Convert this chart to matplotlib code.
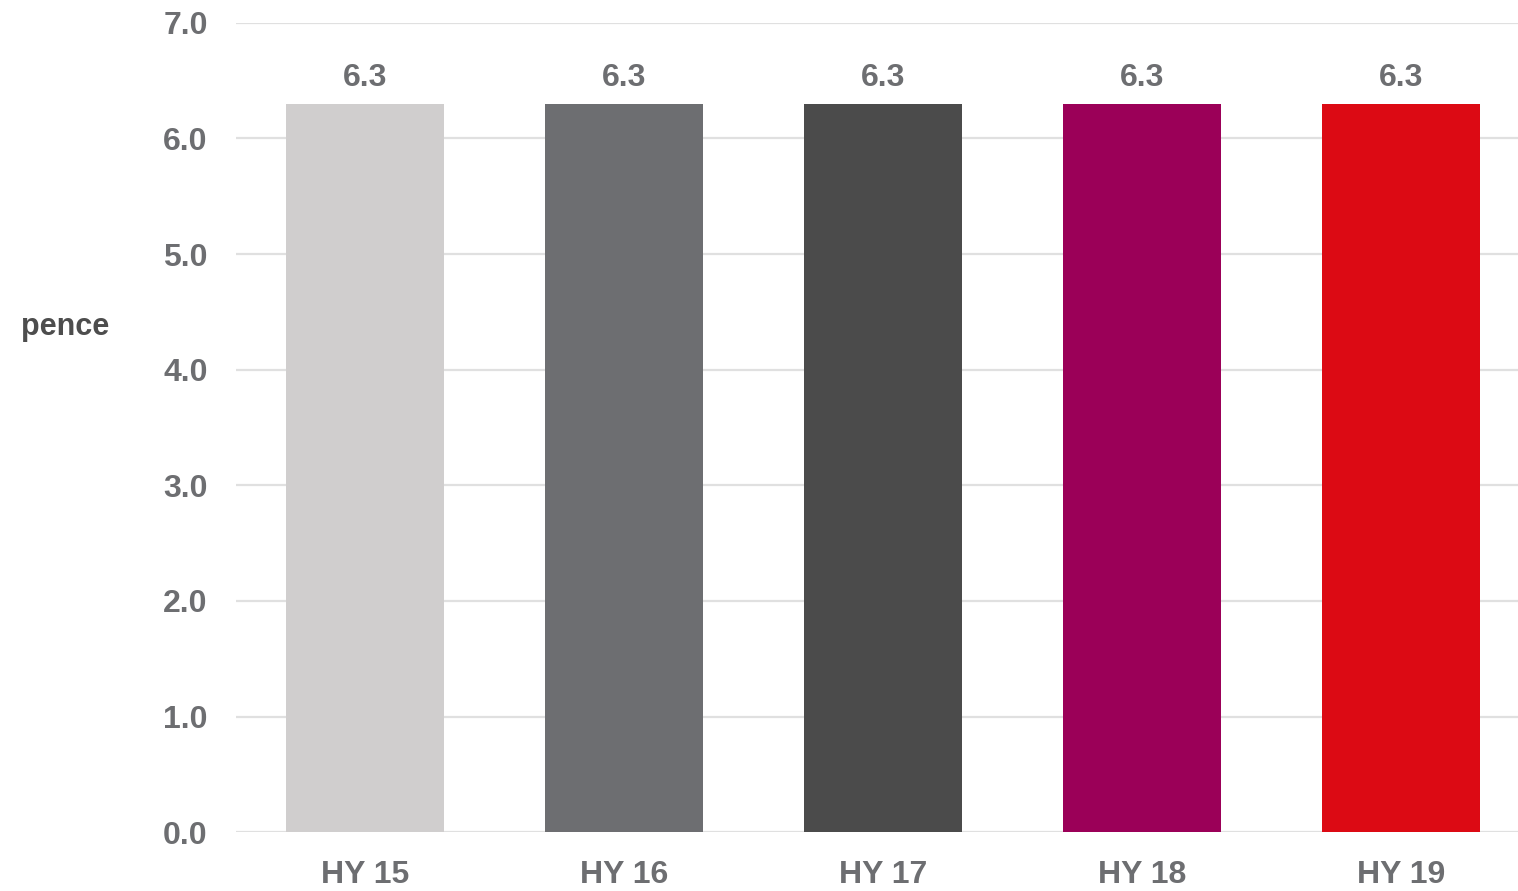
import matplotlib
matplotlib.use("Agg")
import matplotlib.pyplot as plt

categories = ["HY 15", "HY 16", "HY 17", "HY 18", "HY 19"]
values = [6.3, 6.3, 6.3, 6.3, 6.3]
bar_colors = ["#d0cece", "#6d6e71", "#4b4b4b", "#9b0058", "#dc0a14"]
y_ticks = [0, 1, 2, 3, 4, 5, 6, 7]

text_gray = "#6d6e71"
plt.rcParams["font.family"] = ["Liberation Sans", "DejaVu Sans"]
plt.rcParams["font.weight"] = "bold"

fig = plt.figure(figsize=(15.18, 8.91), dpi=100)
W, H = 1518, 891
left_px, right_px = 235.5, 1518
top_px, bottom_px = 22.7, 832.3
ax = fig.add_axes([left_px / W, (H - bottom_px) / H,
                   (right_px - left_px) / W, (bottom_px - top_px) / H])

x = list(range(len(categories)))
bars = ax.bar(x, values, width=0.61, color=bar_colors, zorder=3)

ax.set_xlim(-0.5, -0.5 + (right_px - left_px) / 259.0)
ax.set_ylim(0, 7)
ax.set_yticks(y_ticks)
ax.set_yticklabels([f"{v:.1f}" for v in y_ticks])
ax.set_xticks(x)
ax.set_xticklabels(categories)

ax.yaxis.grid(True, color="#e0e0e0", linewidth=1.6, zorder=0)
ax.xaxis.grid(False)
for s in ax.spines.values():
    s.set_visible(False)

ax.tick_params(axis="y", length=0, pad=20, labelsize=23, labelcolor=text_gray)
ax.tick_params(axis="x", length=0, pad=20, labelsize=23, labelcolor=text_gray)
for lbl in ax.get_xticklabels() + ax.get_yticklabels():
    lbl.set_fontweight("bold")

for rect, v in zip(bars, values):
    ax.annotate(f"{v:.1f}", (rect.get_x() + rect.get_width() / 2, v),
                xytext=(0, 8), textcoords="offset points",
                ha="center", va="bottom", fontsize=23, fontweight="bold",
                color=text_gray)

fig.text(65 / W, 1 - 327 / H, "pence", ha="center", va="center",
         fontsize=22, fontweight="bold", color="#4d4d4d")

fig.savefig("out.png", dpi=100)
